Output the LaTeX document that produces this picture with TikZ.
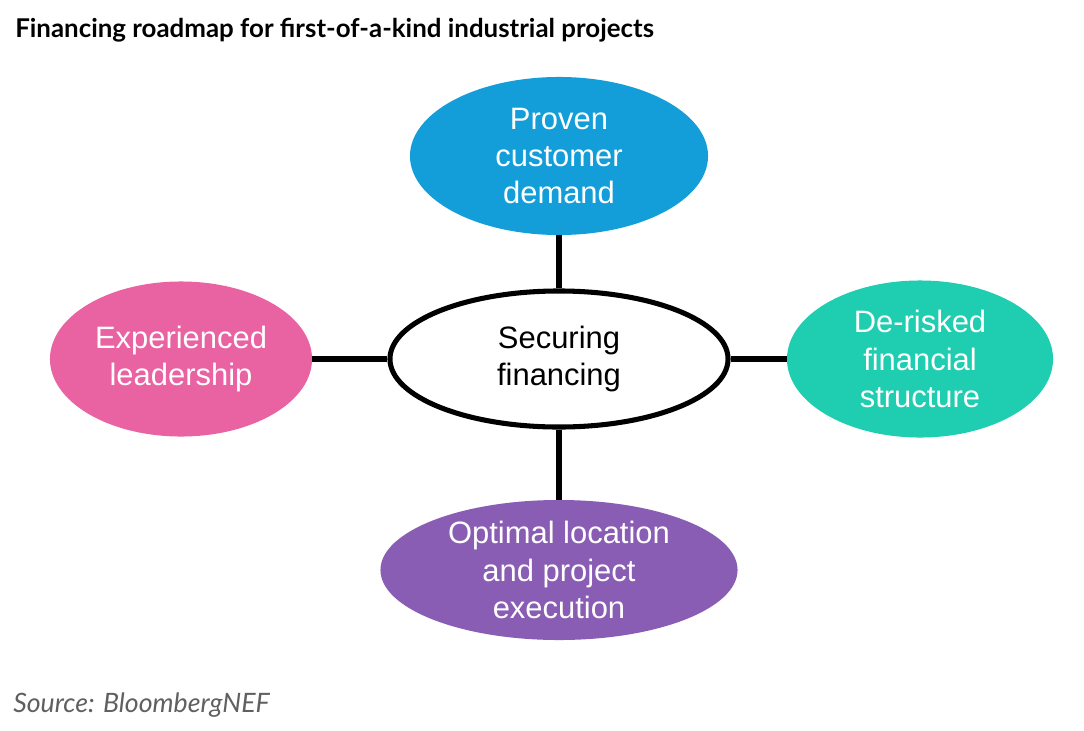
\documentclass[tikz,border=0pt]{standalone}
\usepackage{fontspec}
\setmainfont{Liberation Sans}
\newfontfamily\headfont{Lato}
\usetikzlibrary{shapes.geometric}
\definecolor{bnefblue}{HTML}{139ED9}
\definecolor{bnefpink}{HTML}{E962A2}
\definecolor{bnefteal}{HTML}{1FCDB0}
\definecolor{bnefpurple}{HTML}{8A5DB4}
\definecolor{bnefgray}{HTML}{606060}
\tikzset{
  blob/.style={ellipse, inner sep=0pt, text=white, align=center,
    font=\fontsize{22}{26.5}\selectfont},
  link/.style={line width=4.8pt}
}
\begin{document}
\begin{tikzpicture}[x=0.025cm, y=-0.025cm]
%
\useasboundingbox[fill=white] (0,0) rectangle (1084,730);
%
\node[anchor=base west, inner sep=0pt, font=\headfont\bfseries\fontsize{18.4}{20}\selectfont] (title)
  at (15,37) {Financing roadmap for first-of-a-kind industrial projects};
%
\node[blob, draw=black, line width=3.6pt, fill=white, text=black,
  minimum width=8.45cm, minimum height=3.4cm] (hub) at (559,359) {Securing\\financing};
%
\node[blob, fill=bnefblue, minimum width=7.45cm, minimum height=3.95cm]
  (demand) at (559,156) {Proven\\customer\\demand};
\node[blob, fill=bnefpink, minimum width=6.55cm, minimum height=3.875cm]
  (leader) at (181,359) {Experienced\\leadership};
\node[blob, fill=bnefteal, minimum width=6.65cm, minimum height=3.925cm]
  (derisk) at (920,359) {De-risked\\financial\\structure};
\node[blob, fill=bnefpurple, minimum width=8.925cm, minimum height=3.5cm]
  (location) at (559,570) {Optimal location\\and project\\execution};
%
\draw[link] (hub.north) -- (demand.south);
\draw[link] (hub.west) -- (leader.east);
\draw[link] (hub.east) -- (derisk.west);
\draw[link] (hub.south) -- (location.north);
%
\node[anchor=base west, inner sep=0pt, text=bnefgray, font=\headfont\itshape\fontsize{19}{22}\selectfont] (source)
  at (13,712) {Source: BloombergNEF};
%
\end{tikzpicture}
\end{document}
